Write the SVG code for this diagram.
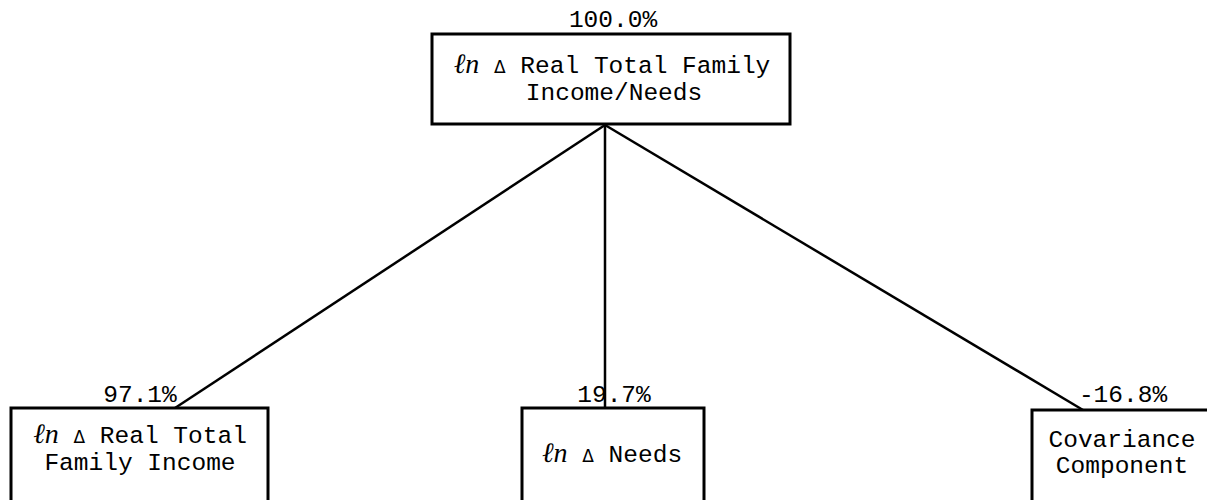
<svg xmlns="http://www.w3.org/2000/svg" width="1207" height="500" viewBox="0 0 1207 500">
<style>
.box{fill:#fff;stroke:#000;stroke-width:3}
.t{font-family:"Liberation Mono",monospace;font-size:24.5px;fill:#000;text-anchor:middle}
.ln{font-family:"Liberation Serif",serif;font-style:italic;font-size:28px}
.d{font-family:"DejaVu Sans",sans-serif;font-size:17px}
.c{stroke:#000;stroke-width:2.5;fill:none}
</style>
<rect width="1207" height="500" fill="#fff"/>
<g id="connectors">
<line class="c" x1="605" y1="125" x2="175" y2="408"/>
<line class="c" x1="605" y1="125" x2="605" y2="408"/>
<line class="c" x1="605" y1="125" x2="1083" y2="410"/>
</g>
<g id="top">
<rect class="box" x="432" y="34" width="358" height="90"/>
<text class="t" x="613" y="27">100.0%</text>
<text class="t" x="612" y="73"><tspan class="ln">ℓn</tspan> <tspan class="d">Δ</tspan> Real Total Family</text>
<text class="t" x="614" y="100">Income/Needs</text>
</g>
<g id="income">
<rect class="box" x="11" y="408" width="257" height="100"/>
<text class="t" x="140" y="402">97.1%</text>
<text class="t" x="140" y="443"><tspan class="ln">ℓn</tspan> <tspan class="d">Δ</tspan> Real Total</text>
<text class="t" x="140" y="470">Family Income</text>
</g>
<g id="needs">
<rect class="box" x="522" y="408" width="182" height="100"/>
<text class="t" x="614" y="402">19.7%</text>
<text class="t" x="612" y="462"><tspan class="ln">ℓn</tspan> <tspan class="d">Δ</tspan> Needs</text>
</g>
<g id="covariance">
<rect class="box" x="1032" y="410" width="190" height="100"/>
<text class="t" x="1123" y="402">-16.8%</text>
<text class="t" x="1122" y="447">Covariance</text>
<text class="t" x="1122" y="473">Component</text>
</g>
</svg>
